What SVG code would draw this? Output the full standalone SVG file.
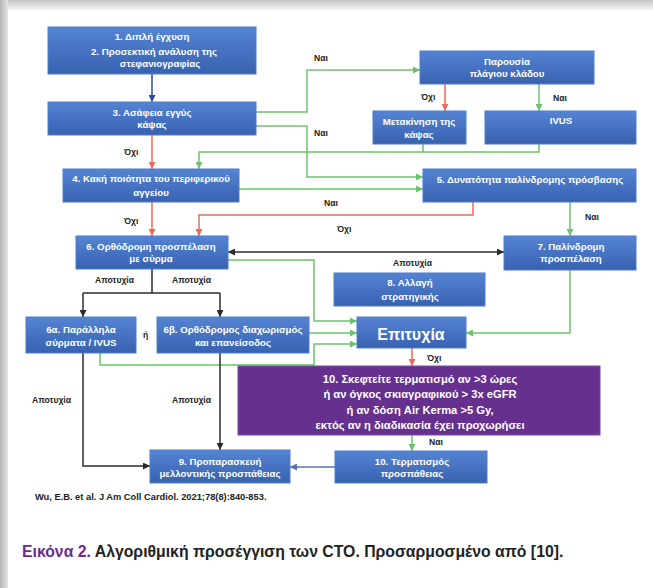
<svg xmlns="http://www.w3.org/2000/svg" width="653" height="588" viewBox="0 0 653 588">
<defs>
<linearGradient id="gBlue" x1="0" y1="0" x2="0" y2="1">
<stop offset="0" stop-color="#5484d3"/><stop offset="1" stop-color="#3862b0"/>
</linearGradient>
<linearGradient id="gTop" x1="0" y1="0" x2="0" y2="1">
<stop offset="0" stop-color="#c4c4c4"/><stop offset="1" stop-color="#f4f4f4"/>
</linearGradient>
<linearGradient id="gLeft" x1="0" y1="0" x2="1" y2="0">
<stop offset="0" stop-color="#b4b4b4"/><stop offset="1" stop-color="#e6e6e6"/>
</linearGradient>
<marker id="aG" viewBox="0 0 10 10" refX="10" refY="5" markerWidth="7" markerHeight="7" markerUnits="userSpaceOnUse" orient="auto"><path d="M0,0 L10,5 L0,10 z" fill="#6cc36c"/></marker>
<marker id="aR" viewBox="0 0 10 10" refX="10" refY="5" markerWidth="7" markerHeight="7" markerUnits="userSpaceOnUse" orient="auto"><path d="M0,0 L10,5 L0,10 z" fill="#f0685a"/></marker>
<marker id="aK" viewBox="0 0 10 10" refX="10" refY="5" markerWidth="7" markerHeight="7" markerUnits="userSpaceOnUse" orient="auto-start-reverse"><path d="M0,0 L10,5 L0,10 z" fill="#2b2b2b"/></marker>
<marker id="aB" viewBox="0 0 10 10" refX="10" refY="5" markerWidth="7" markerHeight="7" markerUnits="userSpaceOnUse" orient="auto"><path d="M0,0 L10,5 L0,10 z" fill="#2d4d99"/></marker>
<marker id="aS" viewBox="0 0 10 10" refX="10" refY="5" markerWidth="7" markerHeight="7" markerUnits="userSpaceOnUse" orient="auto"><path d="M0,0 L10,5 L0,10 z" fill="#5b70b0"/></marker>
</defs>
<style>
.box{fill:url(#gBlue);stroke:#4f7fcf;stroke-width:1}
.pur{fill:#66308f;stroke:#7a4aa6;stroke-width:1}
.t{font-family:"Liberation Sans",Arial,sans-serif;font-weight:bold;fill:#ffffff;font-size:9.7px;text-anchor:middle}
.tp{font-family:"Liberation Sans",Arial,sans-serif;font-weight:bold;fill:#ffffff;font-size:11.2px;text-anchor:middle}
.lb{font-family:"Liberation Sans",Arial,sans-serif;font-weight:bold;fill:#222222;font-size:8.6px}
.g{fill:none;stroke:#6cc36c;stroke-width:1.5}
.r{fill:none;stroke:#f0685a;stroke-width:1.5}
.k{fill:none;stroke:#2b2b2b;stroke-width:1.5}
</style>
<rect x="0" y="0" width="653" height="588" fill="#ffffff"/>
<rect x="0" y="0" width="653" height="10" fill="url(#gTop)"/>
<rect x="0" y="0" width="8" height="588" fill="url(#gLeft)"/>

<g id="connectors">
<path d="M152,74 V102" fill="none" stroke="#2d4d99" stroke-width="1.5" marker-end="url(#aB)"/>
<path class="r" d="M152,135 V169" marker-end="url(#aR)"/>
<path class="g" d="M256,112 H307 V70 H420" marker-end="url(#aG)"/>
<path class="g" d="M256,126 H307 V177 H423" marker-end="url(#aG)"/>
<path class="r" d="M445,84 V111" marker-end="url(#aR)"/>
<path class="g" d="M539,84 V111" marker-end="url(#aG)"/>
<path class="g" d="M423,144 V152"/>
<path class="g" d="M539,144 V152 H199 V169" marker-end="url(#aG)"/>
<path class="g" d="M239,189 H423" marker-end="url(#aG)"/>
<path class="r" d="M473,202 V215 H199 V236" marker-end="url(#aR)"/>
<path class="r" d="M152,202 V236" marker-end="url(#aR)"/>
<path class="g" d="M570,202 V236" marker-end="url(#aG)"/>
<path class="k" d="M228,252 H504" marker-start="url(#aK)" marker-end="url(#aK)"/>
<path class="g" d="M228,260 H314 V321 H357" marker-end="url(#aG)"/>
<path class="g" d="M309,333 H357" marker-end="url(#aG)"/>
<path class="g" d="M100,353 V365 H314 V344 H357" marker-end="url(#aG)"/>
<path class="g" d="M570,270 V333 H466" marker-end="url(#aG)"/>
<path class="k" d="M152,269 V293 M83,293 H220"/>
<path class="k" d="M83,293 V317" marker-end="url(#aK)"/>
<path class="k" d="M220,293 V317" marker-end="url(#aK)"/>
<path class="k" d="M83,353 V466 H150" marker-end="url(#aK)"/>
<path class="k" d="M220,353 V450" marker-end="url(#aK)"/>
<path class="r" d="M412,348 V366" marker-end="url(#aR)"/>
<path class="g" d="M412,435 V451" marker-end="url(#aG)"/>
<path d="M335,467 H290" fill="none" stroke="#5b70b0" stroke-width="1.5" marker-end="url(#aS)"/>
<text class="lb" x="314" y="61">Ναι</text>
<text class="lb" x="314" y="136">Ναι</text>
<text class="lb" x="124" y="155">Όχι</text>
<text class="lb" x="421" y="100">Όχι</text>
<text class="lb" x="553" y="101">Ναι</text>
<text class="lb" x="324" y="206">Ναι</text>
<text class="lb" x="337" y="232">Όχι</text>
<text class="lb" x="124" y="224">Όχι</text>
<text class="lb" x="585" y="220">Ναι</text>
<text class="lb" x="393" y="266">Αποτυχία</text>
<text class="lb" x="95" y="283">Αποτυχία</text>
<text class="lb" x="172" y="283">Αποτυχία</text>
<text class="lb" x="143" y="338">ή</text>
<text class="lb" x="32" y="403">Αποτυχία</text>
<text class="lb" x="172" y="403">Αποτυχία</text>
<text class="lb" x="427" y="361">Όχι</text>
<text class="lb" x="429" y="445">Ναι</text>
</g>

<g id="n1"><rect class="box" x="48" y="27" width="208" height="47"/>
<text class="t" x="152" y="40">1.  Διπλή έγχυση</text>
<text class="t" x="154" y="55">2.  Προσεκτική ανάλυση της</text>
<text class="t" x="160" y="67">στεφανιογραφίας</text></g>
<g id="n3"><rect class="box" x="48" y="102" width="208" height="33"/>
<text class="t" x="152" y="116">3. Ασάφεια εγγύς</text>
<text class="t" x="152" y="128">κάψας</text></g>
<g id="n4"><rect class="box" x="63" y="169" width="176" height="33"/>
<text class="t" x="151" y="182">4. Κακή ποιότητα του  περιφερικού</text>
<text class="t" x="151" y="196">αγγείου</text></g>
<g id="nPar"><rect class="box" x="420" y="51" width="174" height="33"/>
<text class="t" x="507" y="65">Παρουσία</text>
<text class="t" x="507" y="77">πλάγιου κλάδου</text></g>
<g id="nMet"><rect class="box" x="373" y="111" width="93" height="33"/>
<text class="t" x="419" y="125">Μετακίνηση της</text>
<text class="t" x="419" y="138">κάψας</text></g>
<g id="nIvus"><rect class="box" x="485" y="111" width="151" height="33"/>
<text class="t" x="561" y="124">IVUS</text></g>
<g id="n5"><rect class="box" x="423" y="169" width="213" height="33"/>
<text class="t" x="530" y="183">5.   Δυνατότητα παλίνδρομης πρόσβασης</text></g>
<g id="n6"><rect class="box" x="76" y="236" width="152" height="33"/>
<text class="t" x="151" y="250">6. Ορθόδρομη προσπέλαση</text>
<text class="t" x="151" y="262">με σύρμα</text></g>
<g id="n7"><rect class="box" x="504" y="236" width="132" height="34"/>
<text class="t" x="571" y="250">7. Παλίνδρομη</text>
<text class="t" x="571" y="262">προσπέλαση</text></g>
<g id="n8"><rect class="box" x="334" y="273" width="151" height="33"/>
<text class="t" x="410" y="286">8. Αλλαγή</text>
<text class="t" x="410" y="300">στρατηγικής</text></g>
<g id="n6a"><rect class="box" x="26" y="317" width="110" height="36"/>
<text class="t" x="81" y="333">6α. Παράλληλα</text>
<text class="t" x="81" y="346">σύρματα / IVUS</text></g>
<g id="n6b"><rect class="box" x="157" y="317" width="152" height="36"/>
<text class="t" x="233" y="333">6β. Ορθόδρομος διαχωρισμός</text>
<text class="t" x="233" y="346">και επανείσοδος</text></g>
<g id="nSucc"><rect class="box" x="357" y="317" width="109" height="31"/>
<text class="t" x="411" y="340" style="font-size:16px">Επιτυχία</text></g>
<g id="n10"><rect class="pur" x="238" y="366" width="362" height="69"/>
<text class="tp" x="420" y="383">10. Σκεφτείτε τερματισμό αν &gt;3 ώρες</text>
<text class="tp" x="420" y="398">ή αν όγκος σκιαγραφικού &gt; 3x eGFR</text>
<text class="tp" x="420" y="413.5">ή αν δόση Air Kerma &gt;5 Gy,</text>
<text class="tp" x="420" y="429">εκτός αν η διαδικασία έχει προχωρήσει</text></g>
<g id="n9"><rect class="box" x="150" y="450" width="140" height="33"/>
<text class="t" x="220" y="465">9. Προπαρασκευή</text>
<text class="t" x="220" y="477">μελλοντικής προσπάθειας</text></g>
<g id="n10b"><rect class="box" x="335" y="451" width="152" height="32"/>
<text class="t" x="412" y="465">10. Τερματισμός</text>
<text class="t" x="412" y="477">προσπάθειας</text></g>

<text x="35" y="500" style="font-family:'Liberation Sans',Arial,sans-serif;font-weight:bold;font-size:9.3px;fill:#222">Wu, E.B. et al. J Am Coll Cardiol. 2021;78(8):840-853.</text>
<text x="22" y="557" style="font-family:'Liberation Sans',Arial,sans-serif;font-weight:bold;font-size:15.8px;fill:#222"><tspan fill="#6b2c8e">Εικόνα 2.</tspan> Αλγοριθμική προσέγγιση των CTO. Προσαρμοσμένο από [10].</text>
</svg>
